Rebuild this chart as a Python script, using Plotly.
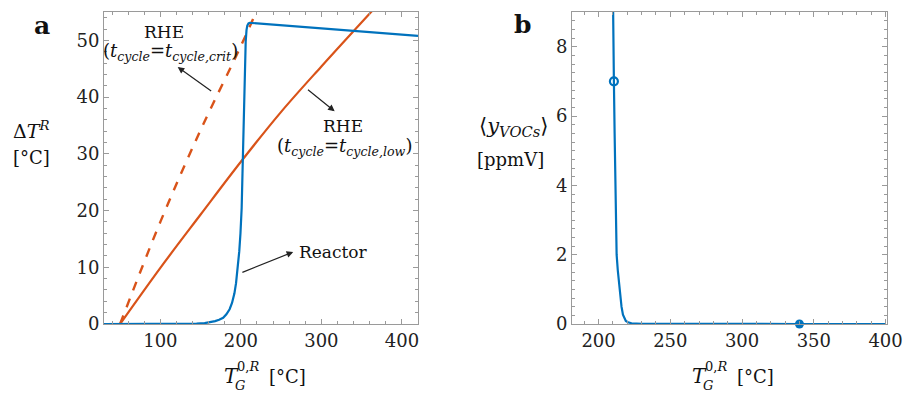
import plotly.graph_objects as go

# ---------------- data ----------------
# Panel a: reactor temperature rise vs inlet gas temperature
T_reactor = [30, 100, 130, 145, 155, 162, 168, 173, 178, 182, 186, 189, 192, 194, 196, 198,
             199.5, 201, 202, 203, 204, 205, 206, 207, 208, 209.5, 211, 420]
dT_reactor = [0, 0, 0.02, 0.06, 0.15, 0.3, 0.5, 0.75, 1.1, 1.7, 2.6, 3.7, 5.4, 7.2, 9.6, 12.8,
              16, 20.5, 26.5, 33, 39.5, 45.5, 49.8, 51.8, 52.6, 53.0, 53.1, 50.8]

T_rhe_low = [50, 100, 150, 200, 250, 300, 365]
dT_rhe_low = [0, 9.9, 19.3, 28.6, 37.4, 45.4, 55.5]

T_rhe_crit = [50, 100, 150, 200, 222]
dT_rhe_crit = [0, 18, 34.2, 49, 56]

# Panel b: mean VOC outlet concentration
T_voc = [209.9, 210.0, 210.7, 211.2, 211.7, 212.2, 212.6, 213.4, 214.2, 215.0, 216.0, 217.0,
         218.0, 219.0, 220.5, 223, 230, 260, 340, 400]
y_voc = [10, 9, 7, 5.5, 4, 2.8, 2.0, 1.55, 1.2, 0.85, 0.5, 0.27,
         0.15, 0.09, 0.05, 0.02, 0.005, 0, 0, 0]
T_open_pt = [210.7]
y_open_pt = [7]
T_fill_pt = [340]
y_fill_pt = [0]

xticks_a = [100, 200, 300, 400]
yticks_a = [0, 10, 20, 30, 40, 50]
xticks_b = [200, 250, 300, 350, 400]
yticks_b = [0, 2, 4, 6, 8]

BLUE = "rgb(0,114,189)"
ORANGE = "rgb(217,83,25)"
FONT = "DejaVu Serif"
W, H = 906, 393
PLOT_TOP, PLOT_BOT = 12, 324
MT, MB = PLOT_TOP, H - PLOT_BOT
PH = PLOT_BOT - PLOT_TOP


def px(x):
    return x / W


def py(y):
    return (PLOT_BOT - y) / PH


fig = go.Figure()

fig.add_trace(go.Scatter(x=T_rhe_crit, y=dT_rhe_crit, mode="lines",
                         line=dict(color=ORANGE, width=2.4, dash="dash", shape="spline", smoothing=1),
                         xaxis="x", yaxis="y", showlegend=False))
fig.add_trace(go.Scatter(x=T_rhe_low, y=dT_rhe_low, mode="lines",
                         line=dict(color=ORANGE, width=2.2, shape="spline", smoothing=1),
                         xaxis="x", yaxis="y", showlegend=False))
fig.add_trace(go.Scatter(x=T_reactor, y=dT_reactor, mode="lines",
                         line=dict(color=BLUE, width=2.2),
                         xaxis="x", yaxis="y", showlegend=False))

fig.add_trace(go.Scatter(x=T_voc, y=y_voc, mode="lines",
                         line=dict(color=BLUE, width=2.2),
                         xaxis="x2", yaxis="y2", showlegend=False))
fig.add_trace(go.Scatter(x=T_open_pt, y=y_open_pt, mode="markers",
                         marker=dict(symbol="circle-open", size=8, color=BLUE,
                                     line=dict(width=2.2, color=BLUE)),
                         xaxis="x2", yaxis="y2", showlegend=False, cliponaxis=False))
fig.add_trace(go.Scatter(x=T_fill_pt, y=y_fill_pt, mode="markers",
                         marker=dict(symbol="circle", size=9, color=BLUE),
                         xaxis="x2", yaxis="y2", showlegend=False, cliponaxis=False))

axis_common = dict(showline=True, linecolor="#9a9a9a", linewidth=1, mirror="allticks",
                   ticks="inside", ticklen=5, tickcolor="#9a9a9a", tickwidth=1,
                   showgrid=False, zeroline=False, automargin=False,
                   ticklabeloverflow="allow",
                   tickfont=dict(family=FONT, size=18, color="#222"))

fig.update_layout(
    width=W, height=H,
    margin=dict(l=0, r=0, t=MT, b=MB),
    paper_bgcolor="white", plot_bgcolor="white",
    xaxis=dict(domain=[px(104), px(418)], range=[30, 420], tickvals=xticks_a,
               minor=dict(dtick=20, ticks="inside", ticklen=3, tickcolor="#9a9a9a"),
               anchor="y", **axis_common),
    yaxis=dict(domain=[0, 1], range=[0, 55], tickvals=yticks_a,
               minor=dict(dtick=2, ticks="inside", ticklen=3, tickcolor="#9a9a9a"),
               anchor="x", **axis_common),
    xaxis2=dict(domain=[px(572), px(887)], range=[181.5, 401], tickvals=xticks_b,
                minor=dict(dtick=10, ticks="inside", ticklen=3, tickcolor="#9a9a9a"),
                anchor="y2", **axis_common),
    yaxis2=dict(domain=[0, 1], range=[0, 9], tickvals=yticks_b,
                minor=dict(dtick=0.25, ticks="inside", ticklen=3, tickcolor="#9a9a9a"),
                anchor="x2", **axis_common),
)

ann = []


def txt(x, y, text, size=18, xanchor="center"):
    ann.append(dict(x=px(x), y=py(y), xref="paper", yref="paper", text=text,
                    showarrow=False, xanchor=xanchor, yanchor="middle",
                    font=dict(family=FONT, size=size, color="#111")))


# panel labels
txt(42, 26, "<b>a</b>", size=25)
txt(522, 25, "<b>b</b>", size=25)

# y titles
txt(31, 130, "Δ<i>T</i><sup><i>R</i></sup>", size=19)
txt(31, 157, "[°C]", size=18)
txt(513, 127, "⟨<i>y</i><sub><i>VOCs</i></sub>⟩", size=21)
txt(510, 159, "[ppmV]", size=18)

# x titles (stacked sub/superscript)
for x0 in (222, 690):
    txt(x0, 376, "<i>T</i>", size=20, xanchor="left")
    txt(x0 + 13, 366, "0,<i>R</i>", size=13, xanchor="left")
    txt(x0 + 11, 385, "<i>G</i>", size=13, xanchor="left")
    txt(x0 + 45, 376, "[°C]", size=18, xanchor="left")

# panel a texts
txt(164, 32, "RHE", size=17)
txt(170, 52, "(<i>t</i><sub><i>cycle</i></sub>=<i>t</i><sub><i>cycle,crit</i></sub>)", size=18)
txt(343, 126, "RHE", size=17)
txt(344.5, 147, "(<i>t</i><sub><i>cycle</i></sub>=<i>t</i><sub><i>cycle,low</i></sub>)", size=18)
txt(297, 252, "Reactor", size=17, xanchor="left")

# arrows (tail -> head) in data coords of panel a
arrows = [((165, 40.9), (121.5, 45.3)),
          ((281.5, 41.5), (316.5, 37.5)),
          ((200, 9.0), (265, 12.7))]
for (tx, ty), (hx, hy) in arrows:
    ann.append(dict(x=hx, y=hy, ax=tx, ay=ty, xref="x", yref="y", axref="x", ayref="y",
                    text="", showarrow=True, arrowhead=2, arrowsize=1.1, arrowwidth=1.2,
                    arrowcolor="#222", standoff=0, startstandoff=0))

fig.update_layout(annotations=ann)

# remove default page margin so the figure fills the 906x393 window exactly
fig.write_html("out.html",
               config={"displayModeBar": False},
               post_script="document.body.style.margin='0';document.body.style.overflow='hidden';")
